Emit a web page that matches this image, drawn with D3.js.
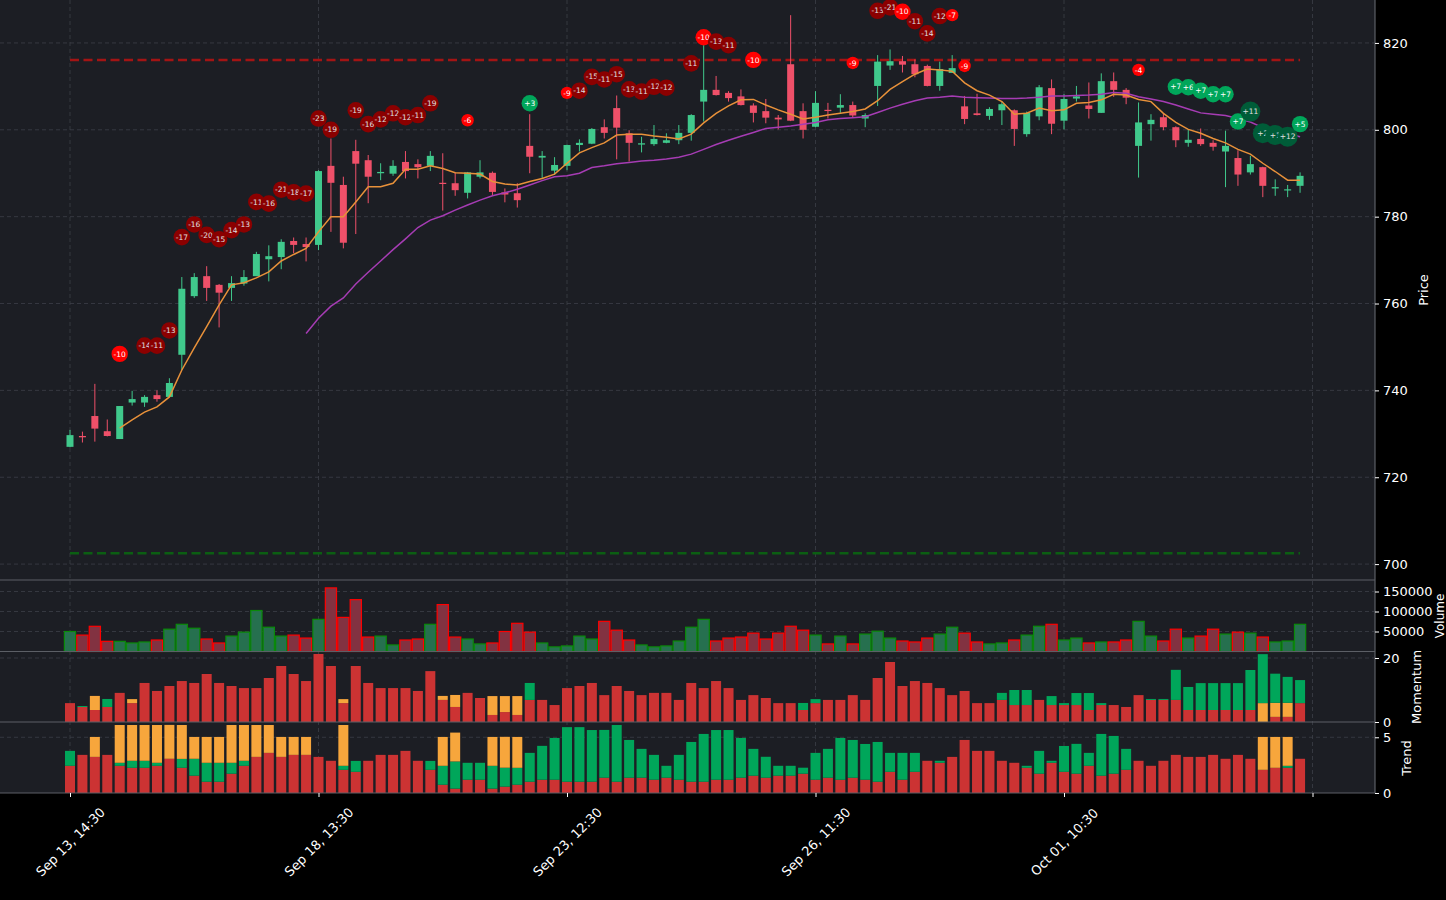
<!DOCTYPE html>
<html>
<head>
<meta charset="utf-8">
<script src="https://cdn.jsdelivr.net/npm/d3@7"></script>
<style>
body { margin: 0; background: #000; }
svg { display: block; font-family: 'DejaVu Sans', sans-serif; }
</style>
</head>
<body>
<svg id="chart" width="1446" height="900"></svg>
<script>
// x tick positions (bar index) and their labels
var tickIdx = [0, 20, 40, 60, 80, 100];
var tickLabels = ['Sep 13, 14:30', 'Sep 18, 13:30', 'Sep 23, 12:30', 'Sep 26, 11:30', 'Oct 01, 10:30', ''];

var opens = [727.0,729.5,734.1,730.6,728.8,737.2,737.2,738.9,738.5,748.2,
	761.7,766.3,764.3,763.6,764.6,766.3,770.2,770.7,774.4,773.7,
	773.5,791.7,787.3,795.1,793.0,790.0,789.9,792.6,792.1,791.7,
	787.8,787.7,785.5,789.2,790.1,785.6,785.4,796.3,793.6,790.6,
	791.7,796.5,796.8,800.6,805.0,799.2,796.6,796.7,797.0,797.6,
	799.3,806.5,809.2,808.5,807.7,805.6,804.3,802.8,815.1,804.3,
	800.7,804.6,805.1,805.7,802.6,810.1,814.8,815.8,815.1,814.7,
	810.1,813.1,805.4,803.8,803.2,804.5,804.5,799.0,803.1,809.6,
	802.1,807.2,805.6,803.9,811.2,809.2,796.3,801.3,802.9,800.6,
	797.0,797.9,797.0,795.0,793.5,790.2,791.4,786.5,786.1,787.1];
var highs = [730.9,730.5,741.5,733.3,736.4,739.9,738.9,740.0,742.8,766.1,
	767.0,768.6,764.5,766.3,767.7,771.9,773.4,774.8,775.2,775.2,
	790.7,798.0,789.2,797.7,794.2,792.3,793.0,795.1,793.2,795.1,
	794.6,790.2,790.3,793.0,790.4,786.5,787.7,803.6,795.1,793.7,
	796.6,797.8,800.4,802.4,807.9,799.9,798.4,801.1,799.2,801.1,
	803.6,819.5,812.4,808.9,809.3,806.1,807.1,803.4,826.4,806.1,
	808.9,806.2,808.2,806.5,803.8,817.2,818.5,817.0,816.2,815.0,
	815.7,817.2,807.8,808.3,805.2,806.5,804.7,804.2,810.3,811.6,
	808.2,810.1,810.9,813.0,813.2,809.6,806.3,803.6,803.8,800.8,
	800.1,800.3,797.6,799.8,795.3,794.0,791.5,788.6,787.3,790.2];
var lows = [726.9,728.0,728.2,729.4,728.8,736.5,736.2,737.4,738.4,744.7,
	761.3,760.6,754.5,760.6,764.1,766.3,765.1,767.9,771.6,769.7,
	772.3,776.5,772.7,776.0,783.1,788.4,789.4,788.8,788.8,790.5,
	781.4,784.8,784.2,788.8,785.0,783.3,782.1,790.0,788.8,789.6,
	790.7,795.0,796.7,798.0,793.2,792.7,794.8,796.3,796.9,796.7,
	797.5,801.9,807.9,806.5,805.6,801.7,801.5,800.1,802.0,798.0,
	800.6,802.6,803.9,802.8,800.6,805.5,813.8,813.2,812.1,810.0,
	809.0,813.1,801.3,803.3,802.3,801.1,796.3,798.4,802.2,799.0,
	800.1,806.5,802.6,803.9,807.6,805.9,789.0,797.5,799.9,796.0,
	796.1,796.3,795.2,786.8,787.1,789.7,784.5,784.8,784.5,785.5];
var closes = [729.7,729.2,731.2,729.5,736.4,738.0,738.5,738.0,741.7,763.4,
	766.1,763.6,762.5,764.7,766.1,771.4,770.9,774.2,773.5,773.0,
	790.5,787.8,774.0,792.2,789.2,790.3,791.7,790.5,791.4,794.0,
	787.6,786.1,790.2,790.2,785.7,785.1,783.8,793.8,794.0,791.9,
	796.5,797.0,800.2,799.3,800.5,797.0,796.9,797.9,797.6,799.3,
	803.4,809.2,808.0,807.3,805.7,803.9,802.8,802.4,802.1,800.0,
	806.2,804.4,805.7,803.3,803.4,815.7,815.8,815.0,812.8,810.1,
	814.0,814.2,802.5,803.4,804.8,805.9,800.2,803.9,809.8,801.4,
	807.1,807.7,804.8,811.2,809.2,807.4,801.7,802.3,800.6,797.6,
	797.7,796.7,796.1,796.3,789.7,792.1,787.1,786.8,786.3,789.4];

var volumes = [50000,41000,63000,25400,25400,21300,23800,28700,55800,68000,
	58200,31200,21300,38500,48400,102500,60700,38500,41000,33600,
	80400,159000,85300,129600,36100,38500,16400,28700,31200,68000,
	117300,36100,31200,18900,21300,50000,70500,48400,21300,11500,
	13900,38500,31200,75400,53300,28700,16400,11500,13900,26200,
	60700,80400,26200,33600,36100,45900,31200,45900,63100,53300,
	41000,18900,38500,18900,43500,50800,33600,26200,23800,33600,
	43500,60700,45900,23800,18900,21300,28700,41000,63100,68000,
	28700,33600,21300,23800,23800,28700,75400,38500,26200,55800,
	33600,38500,55800,43500,48400,45900,36100,23800,26200,68000];

// fast (orange) and slow (purple) moving averages, null before they start
var maFast = [null,null,null,null,731.3,733.2,735.0,736.2,738.5,744.7,
	749.8,754.7,759.7,764.3,764.8,765.9,767.3,769.8,771.3,772.7,
	776.5,780.0,780.0,783.4,786.9,786.9,787.7,790.9,790.9,791.7,
	791.1,790.1,790.0,789.8,788.1,787.5,787.3,788.1,788.8,789.8,
	792.3,794.7,795.9,797.0,798.8,799.0,799.0,798.6,798.3,797.9,
	799.0,801.6,803.8,805.5,806.9,807.0,805.7,804.6,803.6,802.5,
	802.9,803.4,803.8,804.2,804.8,806.7,809.3,811.1,812.8,814.0,
	813.8,813.5,810.8,809.0,808.0,806.5,803.6,803.8,805.0,804.4,
	804.6,806.1,806.3,806.9,808.2,808.0,807.0,806.5,803.8,801.7,
	800.1,799.2,798.0,797.0,795.5,794.4,792.3,790.4,788.4,788.4];
var maSlow = [null,null,null,null,null,null,null,null,null,null,
	null,null,null,null,null,null,null,null,null,753.1,
	756.6,759.4,761.3,764.5,767.2,769.8,772.4,774.9,777.5,779.2,
	780.2,781.5,782.7,783.8,784.8,785.5,786.3,787.3,788.3,789.2,
	789.4,790.0,791.3,791.7,792.2,792.5,792.8,793.0,793.3,793.7,
	794.4,795.5,796.6,797.6,798.5,799.4,800.3,800.6,800.9,801.3,
	801.7,802.3,802.6,802.8,803.0,804.0,805.0,805.9,806.7,807.3,
	807.5,807.8,807.5,807.4,807.3,807.2,807.2,807.3,807.5,807.8,
	807.8,807.9,808.0,808.2,808.6,808.4,807.6,807.1,806.5,805.7,
	804.8,803.9,803.6,803.3,802.6,801.8,800.5,799.7,799.1,798.4];

var resistance = 816.1;
var support = 702.5;

// momentum components
var momRed = [5.9,4.7,3.75,4.7,9.1,5.9,12.2,9.7,11.25,12.8,
	12.2,15.0,12.2,11.25,10.6,10.6,13.75,17.5,15.0,12.8,
	21.25,17.5,5.9,17.5,12.2,10.6,10.6,10.6,9.7,15.9,
	6.9,4.7,9.1,7.5,2.2,3.1,2.2,6.9,6.9,5.3,
	10.6,11.25,12.2,8.4,11.25,9.7,8.4,9.1,9.1,6.9,
	12.2,10.6,12.8,10.6,6.9,8.4,7.5,5.9,5.9,3.75,
	5.9,6.9,6.9,8.4,6.9,13.75,18.75,11.25,12.8,12.2,
	10.6,8.4,9.7,5.9,5.9,6.9,5.3,5.3,6.9,5.3,
	5.3,5.3,3.75,5.3,5.3,4.7,8.4,6.9,6.9,6.9,
	3.75,3.75,3.75,3.75,3.75,3.75,0,1.6,1.6,5.9];
var momOrange = [0,0,4.4,0,0,1.25,0,0,0,0,
	0,0,0,0,0,0,0,0,0,0,
	0,0,1.25,0,0,0,0,0,0,0,
	1.25,3.75,0,0,5.9,5.0,5.9,0,0,0,
	0,0,0,0,0,0,0,0,0,0,
	0,0,0,0,0,0,0,0,0,0,
	0,0,0,0,0,0,0,0,0,0,
	0,0,0,0,0,0,0,0,0,0,
	0,0,0,0,0,0,0,0,0,0,
	0,0,0,0,0,0,5.9,4.4,4.4,0];
var momGreen = [0,0.3,0,2.5,0,0,0,0,0,0,
	0,0,0,0,0,0,0,0,0,0,
	0,0,0,0,0,0,0,0,0,0,
	0,0,0,0,0,0,0,5.3,0,0,
	0,0,0,0,0,0,0,0,0,0,
	0,0,0,0,0,0,0,0,0,2.2,
	1.25,0,0,0,0,0,0,0,0,0,
	0,0,0,0,0,2.2,4.7,4.7,0,2.8,
	0.6,3.75,5.3,0.6,0,0,0,0.3,0.3,9.4,
	7.2,8.4,8.4,8.4,8.4,12.5,15.3,9.1,8.1,7.2];

// trend components
var trendRed = [2.44,3.42,3.24,3.42,2.44,2.26,2.26,2.44,3.07,2.26,
	1.55,1.01,1.01,1.73,2.44,3.24,3.6,3.24,3.42,3.42,
	3.24,2.89,2.08,1.9,2.89,3.42,3.42,3.78,2.89,2.08,
	0.74,0.39,1.19,1.19,0.39,0.57,0.74,1.01,1.19,1.19,
	1.01,1.01,1.01,1.37,1.01,1.37,1.37,1.19,1.37,1.19,
	1.01,1.01,1.19,1.19,1.37,1.55,1.37,1.55,1.55,1.73,
	1.19,1.37,1.19,1.37,1.19,1.01,1.9,1.19,1.9,2.89,
	2.71,3.24,4.76,3.78,3.78,2.89,2.71,2.26,1.73,2.71,
	1.9,1.73,2.44,1.55,1.73,2.08,2.89,2.44,2.89,3.42,
	3.24,3.24,3.42,3.07,3.42,3.07,2.08,2.26,2.26,3.07];
var trendGreen = [1.34,0,0,0,0.27,0.63,0.63,0.27,0,0.8,
	1.52,1.7,1.7,0.98,0.45,0,0,0,0,0,
	0,0,0.36,0.98,0,0,0,0,0,0.8,
	1.7,2.44,1.52,1.52,2.05,1.7,1.52,2.59,3.04,3.75,
	4.9,4.9,4.64,4.29,5.09,3.39,2.59,2.23,1.07,2.23,
	3.57,4.29,4.46,4.46,3.57,2.41,1.88,0.89,0.89,0.54,
	2.41,2.59,3.75,3.39,3.21,3.57,1.7,2.41,1.7,0,
	0.18,0,0,0,0,0,0,0.18,2.05,0.18,
	2.32,2.68,1.16,3.75,3.39,1.88,0,0,0,0,
	0,0,0,0,0,0,0,0,0.18,0];
var trendOrange = [0,0,1.79,0,3.39,3.21,3.21,3.39,3.04,3.04,
	1.96,2.32,2.32,3.39,3.21,2.86,2.5,1.79,1.61,1.61,
	0,0,3.66,0,0,0,0,0,0,0,
	2.59,2.59,0,0,2.59,2.77,2.77,0,0,0,
	0,0,0,0,0,0,0,0,0,0,
	0,0,0,0,0,0,0,0,0,0,
	0,0,0,0,0,0,0,0,0,0,
	0,0,0,0,0,0,0,0,0,0,
	0,0,0,0,0,0,0,0,0,0,
	0,0,0,0,0,0,2.95,2.77,2.59,0];

// signal markers: bar index, score, price level, strong (dark) or not
var sigIdx = [4,6,7,8,9,10,11,12,13,14,15,16,17,18,19,20,21,23,24,25,
	26,27,28,29,32,37,40,41,42,43,44,45,46,47,48,50,51,52,53,55,
	63,65,66,67,68,69,70,71,72,86,89,90,91,92,93,94,95,96,97,98,99];
var sigVal = [-10,-14,-11,-13,-17,-16,-20,-15,-14,-13,-11,-16,-21,-18,-17,-23,-19,-19,-16,-12,
	-12,-12,-11,-19,-6,3,-9,-14,-15,-11,-15,-13,-11,-12,-12,-11,-10,-13,-11,-10,
	-9,-13,-21,-10,-11,-14,-12,-7,-9,-4,7,6,7,7,7,7,11,2,1,12,5];
var sigLevel = [748.4,750.3,750.3,753.8,775.3,778.2,775.8,774.8,776.9,778.2,783.4,783.0,786.2,785.6,785.3,802.6,800.0,804.5,801.3,802.4,
	803.8,802.9,803.4,806.1,802.2,806.1,808.5,809.0,812.2,811.6,812.8,809.3,808.8,809.9,809.7,815.3,821.3,820.3,819.5,816.1,
	815.4,827.4,828.2,827.2,825.0,822.2,826.2,826.4,814.7,813.8,809.9,809.8,809.0,808.2,808.2,801.9,804.2,799.2,798.8,798.4,801.3];
var sigStrong = [0,1,1,1,1,1,1,1,1,1,1,1,1,1,1,1,1,1,1,1,
	1,1,1,1,0,0,0,1,1,1,1,1,1,1,1,1,0,1,1,0,
	0,1,1,0,1,1,1,0,0,0,0,0,0,0,0,0,1,1,1,1,0];

var svg = d3.select('#chart');
var plotRight = 1375;
var panelBottom = 793;

var x = d3.scaleLinear().domain([-5.634, 105.03]).range([0, plotRight]);
var yPrice = d3.scaleLinear().domain([696.34, 829.89]).range([580, 0]);
var yVol = d3.scaleLinear().domain([0, 178750]).range([651.5, 580]);
var yMom = d3.scaleLinear().domain([0, 22.03]).range([722, 651.5]);
var yTrend = d3.scaleLinear().domain([0, 6.37]).range([793, 722]);

var upColor = '#40c98c', downColor = '#ef5069';
var barRed = '#cc3333', barGreen = '#00a65a', barOrange = '#f7a63c';

svg.append('rect')
	.attr('x', 0).attr('y', 0)
	.attr('width', plotRight).attr('height', panelBottom)
	.attr('fill', '#1c1e24');

// grid
var grid = svg.append('g')
	.attr('stroke', '#3c3f47')
	.attr('stroke-width', 0.8)
	.attr('stroke-dasharray', '4,3');

function hgrid(scale, values) {
	values.forEach(function(v) {
		grid.append('line')
			.attr('x1', 0).attr('x2', plotRight)
			.attr('y1', scale(v)).attr('y2', scale(v));
	});
}
hgrid(yPrice, [700, 720, 740, 760, 780, 800, 820]);
hgrid(yVol, [50000, 100000, 150000]);
hgrid(yMom, [20]);
hgrid(yTrend, [5]);

tickIdx.forEach(function(t) {
	grid.append('line')
		.attr('x1', x(t)).attr('x2', x(t))
		.attr('y1', 0).attr('y2', panelBottom);
});

// support / resistance
[[resistance, '#a31414'], [support, '#0b5e12']].forEach(function(d) {
	svg.append('line')
		.attr('x1', x(0)).attr('x2', x(opens.length - 1))
		.attr('y1', yPrice(d[0])).attr('y2', yPrice(d[0]))
		.attr('stroke', d[1])
		.attr('stroke-width', 2.5)
		.attr('stroke-dasharray', '9,4.5');
});

// candles
var candles = svg.append('g');
for (var i = 0; i < opens.length; i++) {
	var up = closes[i] >= opens[i];
	var col = up ? upColor : downColor;
	candles.append('line')
		.attr('x1', x(i)).attr('x2', x(i))
		.attr('y1', yPrice(highs[i])).attr('y2', yPrice(lows[i]))
		.attr('stroke', col)
		.attr('stroke-width', 1);
	var bodyTop = yPrice(Math.max(opens[i], closes[i]));
	var bodyBot = yPrice(Math.min(opens[i], closes[i]));
	candles.append('rect')
		.attr('x', x(i) - 3.5)
		.attr('y', bodyTop)
		.attr('width', 7)
		.attr('height', Math.max(1.2, bodyBot - bodyTop))
		.attr('fill', col);
}

// moving averages
var maLine = d3.line()
	.defined(function(d) { return d != null; })
	.x(function(d, i) { return x(i); })
	.y(function(d) { return yPrice(d); });

svg.append('path').datum(maSlow)
	.attr('d', maLine)
	.attr('fill', 'none')
	.attr('stroke', '#a63cb4')
	.attr('stroke-width', 1.5);
svg.append('path').datum(maFast)
	.attr('d', maLine)
	.attr('fill', 'none')
	.attr('stroke', '#e8913a')
	.attr('stroke-width', 1.5);

// signal markers
var sigs = svg.append('g');
for (var s = 0; s < sigIdx.length; s++) {
	var v = sigVal[s];
	var fill, r;
	if (sigStrong[s]) {
		fill = v < 0 ? '#8b0000' : '#005c38';
		r = v < 0 ? 8.3 : 10;
	} else {
		fill = v < 0 ? '#ff0000' : '#00a65a';
		r = (v > 0 || v <= -10) ? 8.2 : 6.2;
	}
	var cx = x(sigIdx[s]), cy = yPrice(sigLevel[s]);
	sigs.append('circle')
		.attr('cx', cx).attr('cy', cy).attr('r', r)
		.attr('fill', fill);
	sigs.append('text')
		.attr('x', cx).attr('y', cy)
		.attr('dy', '0.35em')
		.attr('text-anchor', 'middle')
		.attr('font-size', '7.5px')
		.attr('fill', sigStrong[s] ? '#e0e0e0' : '#ffffff')
		.text((v > 0 ? '+' : '') + v);
}

// volume
var vols = svg.append('g');
for (var j = 0; j < volumes.length; j++) {
	var upv = closes[j] >= opens[j];
	vols.append('rect')
		.attr('x', x(j) - 5.6)
		.attr('y', yVol(volumes[j]))
		.attr('width', 11.2)
		.attr('height', yVol(0) - yVol(volumes[j]))
		.attr('fill', upv ? '#26704f' : '#823241')
		.attr('stroke', upv ? '#0a8a0a' : '#ff0000')
		.attr('stroke-width', 1.2);
}

// stacked indicator bars
function stacked(scale, layers, colors) {
	var g = svg.append('g');
	for (var k = 0; k < layers[0].length; k++) {
		var base = 0;
		for (var l = 0; l < layers.length; l++) {
			var val = layers[l][k];
			if (val > 0) {
				g.append('rect')
					.attr('x', x(k) - 5)
					.attr('y', scale(base + val))
					.attr('width', 10)
					.attr('height', scale(base) - scale(base + val))
					.attr('fill', colors[l]);
			}
			base += val;
		}
	}
}
stacked(yMom, [momRed, momOrange, momGreen], [barRed, barOrange, barGreen]);
stacked(yTrend, [trendRed, trendGreen, trendOrange], [barRed, barGreen, barOrange]);

// panel frames
var frame = svg.append('g').attr('stroke', '#5c5f66').attr('stroke-width', 1.2);
[580, 651.5, 722, 793].forEach(function(yy) {
	frame.append('line').attr('x1', 0).attr('x2', plotRight).attr('y1', yy).attr('y2', yy);
});
frame.append('line').attr('x1', plotRight).attr('x2', plotRight).attr('y1', 0).attr('y2', panelBottom);

// axes
function rightAxis(scale, values) {
	var g = svg.append('g')
		.attr('transform', 'translate(' + plotRight + ',0)')
		.call(d3.axisRight(scale).tickValues(values).tickSize(4).tickPadding(4).tickFormat(d3.format('d')));
	g.select('.domain').remove();
	g.selectAll('line').attr('stroke', '#ffffff');
	g.selectAll('text')
		.attr('fill', '#ffffff')
		.attr('font-size', '13px')
		.attr('font-family', 'DejaVu Sans, sans-serif');
}
rightAxis(yPrice, [700, 720, 740, 760, 780, 800, 820]);
rightAxis(yVol, [50000, 100000, 150000]);
rightAxis(yMom, [0, 20]);
rightAxis(yTrend, [0, 5]);

var xAxis = svg.append('g')
	.attr('transform', 'translate(0,' + panelBottom + ')')
	.call(d3.axisBottom(x).tickValues(tickIdx).tickSize(4)
		.tickFormat(function(d, i) { return tickLabels[i]; }));
xAxis.select('.domain').remove();
xAxis.selectAll('line').attr('stroke', '#ffffff');
xAxis.selectAll('text')
	.attr('y', 0)
	.attr('dy', '0.35em')
	.attr('text-anchor', 'middle')
	.attr('transform', 'translate(0,49) rotate(-45)')
	.attr('fill', '#ffffff')
	.attr('font-size', '13px')
	.attr('font-family', 'DejaVu Sans, sans-serif');

// axis titles
[['Price', 1428, 290, 13], ['Volume', 1444, 616, 12], ['Momentum', 1421, 687, 13], ['Trend', 1411, 758, 13]].forEach(function(d) {
	svg.append('text')
		.attr('transform', 'translate(' + d[1] + ',' + d[2] + ') rotate(-90)')
		.attr('text-anchor', 'middle')
		.attr('fill', '#ffffff')
		.attr('font-size', d[3] + 'px')
		.text(d[0]);
});
</script>
</body>
</html>
